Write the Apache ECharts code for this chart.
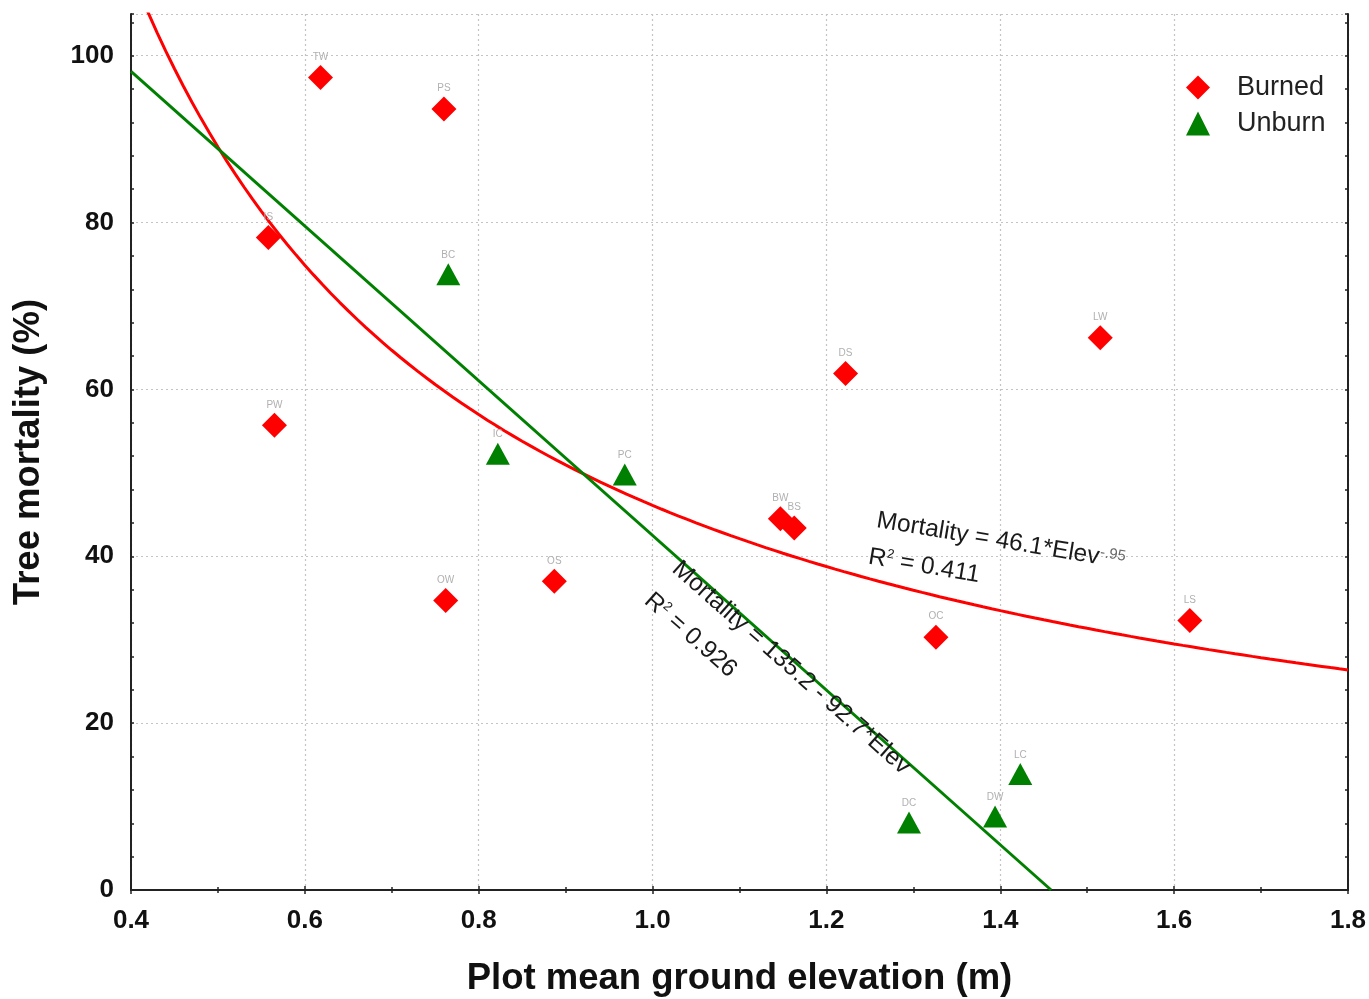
<!DOCTYPE html>
<html>
<head>
<meta charset="utf-8">
<script src="https://cdn.jsdelivr.net/npm/echarts@6/dist/echarts.min.js"></script>
<style>
  html, body { margin: 0; padding: 0; background: #fff; }
  #chart { width: 1369px; height: 999px; }
</style>
</head>
<body>
<div id="chart"></div>
<script>
// Plot sites: mean ground elevation (m) and tree mortality (%)
const burnedSites = ['TW', 'PS', 'IS', 'PW', 'OW', 'OS', 'DS', 'LW', 'BW', 'BS', 'OC', 'LS'];
const burnedElev  = [0.618, 0.760, 0.558, 0.565, 0.762, 0.887, 1.222, 1.515, 1.147, 1.163, 1.326, 1.618];
const burnedMort  = [97.4, 93.6, 78.2, 55.7, 34.7, 37.0, 61.9, 66.2, 44.5, 43.4, 30.3, 32.3];

const unburnSites = ['BC', 'IC', 'PC', 'DC', 'DW', 'LC'];
const unburnElev  = [0.765, 0.822, 0.968, 1.295, 1.394, 1.423];
const unburnMort  = [73.8, 52.3, 49.8, 8.1, 8.8, 13.9];

// Fitted models
const powerCoef = 46.1, powerExp = -0.95, powerR2 = '0.411';   // burned: Mortality = a*Elev^b
const linIntercept = 135.2, linSlope = -92.7, linR2 = '0.926'; // unburned: Mortality = a + b*Elev

const xTicks = [0.4, 0.6, 0.8, 1.0, 1.2, 1.4, 1.6, 1.8];
const yTicks = [0, 20, 40, 60, 80, 100];

const FONT = '"Liberation Sans", Arial, sans-serif';

const burnedData = burnedSites.map((s, i) => ({ name: s, value: [burnedElev[i], burnedMort[i]] }));
const unburnData = unburnSites.map((s, i) => ({ name: s, value: [unburnElev[i], unburnMort[i]] }));

// power curve sampled across the x range (clipped by the grid at the top)
const powerCurve = [];
for (let k = 0; k <= 140; k++) {
  const x = xTicks[0] + k * 0.01;
  powerCurve.push([x, powerCoef * Math.pow(x, powerExp)]);
}
// straight line from the left edge down to zero mortality
const linEnd = -linIntercept / linSlope;
const linLine = [[xTicks[0], linIntercept + linSlope * xTicks[0]], [linEnd, 0]];

const chart = echarts.init(document.getElementById('chart'), null, { renderer: 'canvas' });

const pointLabel = {
  show: true, position: 'top', distance: 3,
  formatter: p => p.name, fontSize: 10, color: '#b0b0b0', fontFamily: FONT
};

const axisLineStyle = { show: true, lineStyle: { color: '#222', width: 2 } };

chart.setOption({
  animation: false,
  backgroundColor: '#fff',
  grid: { left: 131, top: 14, right: 21, bottom: 109, containLabel: false, outerBoundsMode: 'none' },
  xAxis: [
    {
      type: 'value', position: 'bottom', min: 0.4, max: 1.8, interval: 0.2,
      axisLine: axisLineStyle,
      axisTick: { show: true, inside: true, length: 4, lineStyle: { color: '#222', width: 1.5 } },
      minorTick: { show: true, splitNumber: 2, length: 3, lineStyle: { color: '#222', width: 1.5 } },
      axisLabel: { fontSize: 26, fontWeight: 'bold', color: '#111', fontFamily: FONT, margin: 18,
                   formatter: v => v.toFixed(1) },
      splitLine: { show: true, lineStyle: { color: '#c4c4c4', type: [2, 3], width: 1.2 } },
      name: 'Plot mean ground elevation (m)', nameLocation: 'middle', nameGap: 70,
      nameTextStyle: { fontSize: 36.5, fontWeight: 'bold', color: '#111', fontFamily: FONT }
    },
    {
      type: 'value', position: 'top', min: 0.4, max: 1.8, interval: 0.2,
      axisLine: axisLineStyle,
      axisTick: { show: true, inside: true, length: 4, lineStyle: { color: '#222', width: 1.5 } },
      minorTick: { show: true, splitNumber: 2, length: 3, lineStyle: { color: '#222', width: 1.5 } },
      axisLabel: { show: false }, splitLine: { show: false }
    }
  ],
  yAxis: [
    {
      type: 'value', position: 'left', min: 0, max: 105, interval: 20,
      axisLine: axisLineStyle,
      axisTick: { show: false },
      axisLabel: { fontSize: 26, fontWeight: 'bold', color: '#111', fontFamily: FONT, margin: 17,
                   showMaxLabel: false, formatter: v => (v % 20 === 0 ? String(v) : '') },
      splitLine: { show: true, lineStyle: { color: '#c4c4c4', type: [2, 3], width: 1.2 } },
      name: 'Tree mortality (%)', nameLocation: 'middle', nameGap: 84,
      nameTextStyle: { fontSize: 36.5, fontWeight: 'bold', color: '#111', fontFamily: FONT }
    },
    {
      type: 'value', position: 'left', min: 0, max: 105, interval: 4,
      axisLine: { show: false },
      axisTick: { show: true, inside: true, length: 3, lineStyle: { color: '#222', width: 1.5 } },
      axisLabel: { show: false }, splitLine: { show: false }
    },
    {
      type: 'value', position: 'right', min: 0, max: 105, interval: 4,
      axisLine: axisLineStyle,
      axisTick: { show: true, inside: true, length: 3, lineStyle: { color: '#222', width: 1.5 } },
      axisLabel: { show: false }, splitLine: { show: false }
    }
  ],
  legend: {
    orient: 'vertical', left: 1181, top: 69,
    itemWidth: 24, itemHeight: 24, itemGap: 9,
    textStyle: { fontSize: 27, color: '#222', fontFamily: FONT, padding: [0, 0, 0, 22], lineHeight: 26 },
    data: [
      { name: 'Burned', icon: 'diamond', itemStyle: { color: '#ff0000', opacity: 1 } },
      { name: 'Unburn', icon: 'triangle', itemStyle: { color: '#008000', opacity: 1 } }
    ]
  },
  series: [
    {
      name: 'Burned fit', type: 'line', data: powerCurve, showSymbol: false, symbol: 'none',
      smooth: false, clip: true, silent: true,
      lineStyle: { color: '#ff0000', width: 3 }, z: 2
    },
    {
      name: 'Unburn fit', type: 'line', data: linLine, showSymbol: false, symbol: 'none',
      clip: true, silent: true,
      lineStyle: { color: '#008000', width: 3 }, z: 2
    },
    {
      name: 'Burned', type: 'scatter', data: burnedData,
      symbol: 'diamond', symbolSize: [25, 25],
      itemStyle: { color: '#ff0000', opacity: 1 }, label: pointLabel, z: 3
    },
    {
      name: 'Unburn', type: 'scatter', data: unburnData,
      symbol: 'triangle', symbolSize: [24, 22],
      itemStyle: { color: '#008000', opacity: 1 }, label: pointLabel, z: 3
    }
  ]
});

// Equation annotations, anchored in data space and rotated along each fit
const deg = Math.PI / 180;
const EQ = 24.5;
const eqStyle = { fontSize: EQ, fill: '#1a1a1a', fontFamily: FONT };
const richR2 = {
  sup: { fontSize: 13, verticalAlign: 'top', fill: '#1a1a1a', fontFamily: FONT, padding: [0, 0, 6, 0] },
  n: { fontSize: EQ, fill: '#1a1a1a', fontFamily: FONT }
};
const richPow = {
  n: { fontSize: EQ, fill: '#1a1a1a', fontFamily: FONT },
  sup: { fontSize: 15, verticalAlign: 'top', fill: '#666', fontFamily: FONT, padding: [0, 0, 6, 0] }
};

const annotations = [
  { at: [1.036, 40.0], angle: -41.5,
    text: '{n|Mortality = ' + linIntercept + ' - ' + Math.abs(linSlope) + '*Elev}', rich: richR2 },
  { at: [1.004, 36.2], angle: -41.5,
    text: '{n|R}{sup|2}{n| = ' + linR2 + '}', rich: richR2 },
  { at: [1.2605, 45.8], angle: -9.5,
    text: '{n|Mortality = ' + powerCoef + '*Elev}{sup|' + String(powerExp).replace('0.', '.') + '}', rich: richPow },
  { at: [1.251, 41.4], angle: -9.5,
    text: '{n|R}{sup|2}{n| = ' + powerR2 + '}', rich: richR2 }
];

const graphics = annotations.map(a => {
  const p = chart.convertToPixel({ xAxisIndex: 0, yAxisIndex: 0 }, a.at);
  return {
    type: 'text', x: p[0], y: p[1], rotation: a.angle * deg, z: 10,
    style: Object.assign({ text: a.text, rich: a.rich, textAlign: 'left', textVerticalAlign: 'top' }, eqStyle)
  };
});
chart.setOption({ graphic: graphics });
</script>
</body>
</html>
